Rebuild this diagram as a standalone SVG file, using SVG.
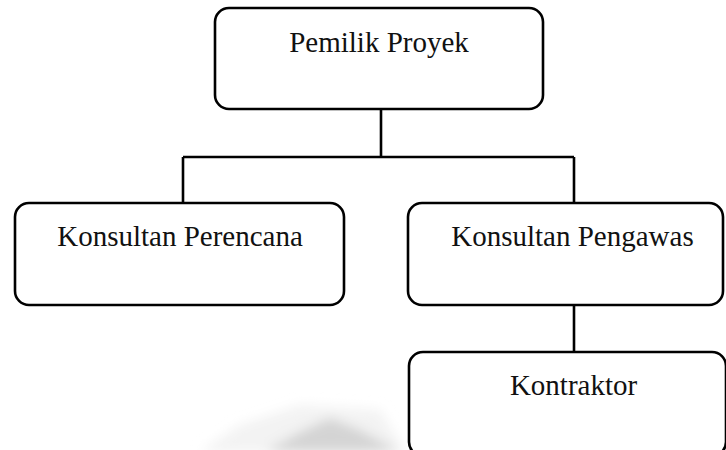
<svg xmlns="http://www.w3.org/2000/svg" width="726" height="450" viewBox="0 0 726 450">
<style>
.box{fill:#fff;stroke:#000;stroke-width:2.6}
.lbl{font-family:"Liberation Serif","Times New Roman",serif;font-size:29px;fill:#111;text-anchor:middle}
.con{fill:none;stroke:#000;stroke-width:2.6}
</style>
<defs>
<filter id="blur" x="-20%" y="-50%" width="140%" height="200%"><feGaussianBlur stdDeviation="6"/></filter>
</defs>
<rect width="726" height="450" fill="#fff"/>
<g id="watermark" filter="url(#blur)">
<polygon points="200,452 240,425 300,405 380,410 405,452" fill="#f3f3f3"/>
<polygon points="265,452 300,432 330,418 360,430 400,452" fill="#d4d4d4"/>
</g>
<g id="connectors">
<path class="con" d="M381,109 V157 M183,157 H574 M183,157 V203 M574,157 V203"/>
<path class="con" d="M574,305 V352"/>
</g>
<g id="pemilik">
<rect class="box" x="215" y="8" width="328" height="101" rx="14"/>
<text class="lbl" x="379" y="52">Pemilik Proyek</text>
</g>
<g id="perencana">
<rect class="box" x="15" y="203" width="329" height="102" rx="14"/>
<text class="lbl" x="180" y="246">Konsultan Perencana</text>
</g>
<g id="pengawas">
<rect class="box" x="408" y="203" width="315" height="102" rx="14"/>
<text class="lbl" x="572.5" y="246">Konsultan Pengawas</text>
</g>
<g id="kontraktor">
<rect class="box" x="409" y="352" width="317" height="104" rx="14"/>
<text class="lbl" x="573.5" y="395">Kontraktor</text>
</g>
</svg>
